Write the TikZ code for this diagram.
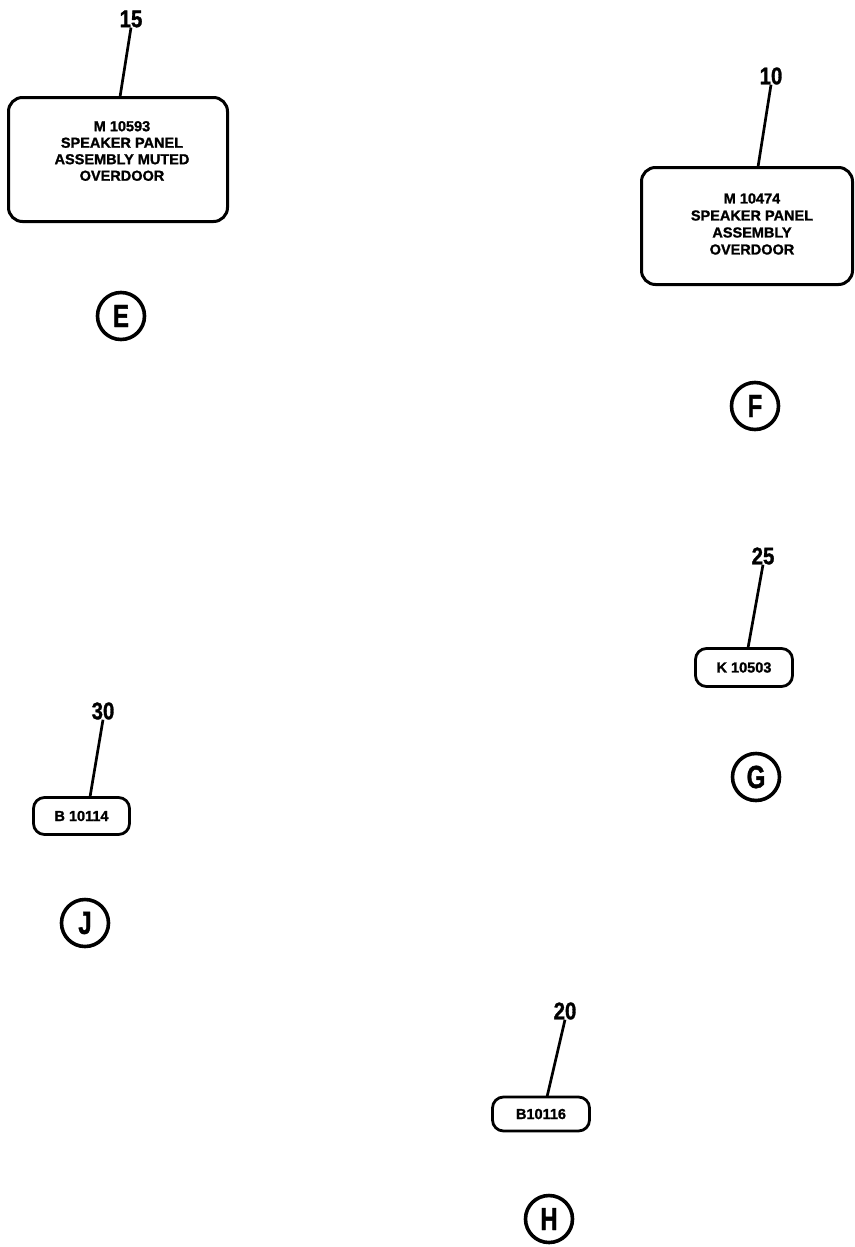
\documentclass[tikz,border=0pt]{standalone}
\usepackage{fontspec}
\setmainfont{Liberation Sans}
\newfontfamily\heavy{Liberation Sans}[BoldFeatures={FakeBold=1.4}]
\begin{document}
\begin{tikzpicture}[x=1pt,y=-1pt,
  panel/.style={draw, line width=3pt, rounded corners=14pt, inner sep=0pt},
  ptext/.style={font=\heavy\bfseries\fontsize{14.5}{16.5}\selectfont, align=center, inner sep=0pt},
  tag/.style={draw, line width=2.8pt, rounded corners=11pt, inner sep=0pt, font=\heavy\bfseries\fontsize{14.5}{16}\selectfont},
  num/.style={font=\heavy\bfseries\fontsize{24}{24}\selectfont, inner sep=0pt},
  leader/.style={line width=2.7pt},
  view/.style={draw, circle, line width=3.6pt, minimum size=47pt, inner sep=0pt, font=\heavy\bfseries\fontsize{32}{32}\selectfont}
]
\useasboundingbox (0,0) rectangle (854,1247);

% E
\node[panel, minimum width=219pt, minimum height=124pt] (bE) at (118,159.5) {};
\node[ptext] (tE) at (122,151) {M 10593\\SPEAKER PANEL\\ASSEMBLY MUTED\\OVERDOOR};
\node[num] (n15) at (131,19) {\scalebox{0.85}[1]{15}};
\coordinate (cE) at (120,97);
\draw[leader] (n15.south) -- (cE);
\node[view] (vE) at (121,316) {\scalebox{0.75}[1]{E}};

% F
\node[panel, minimum width=211pt, minimum height=117pt] (bF) at (747,226) {};
\node[ptext, font=\heavy\bfseries\fontsize{14.5}{17}\selectfont] (tF) at (752,224) {M 10474\\SPEAKER PANEL\\ASSEMBLY\\OVERDOOR};
\node[num] (n10) at (771,76) {\scalebox{0.85}[1]{10}};
\coordinate (cF) at (758,167);
\draw[leader] (n10.south) -- (cF);
\node[view] (vF) at (755,406) {\scalebox{0.75}[1]{F}};

% G
\node[tag, minimum width=97pt, minimum height=38pt] (bG) at (744,667.5) {K 10503};
\node[num] (n25) at (763,556) {\scalebox{0.85}[1]{25}};
\coordinate (cG) at (748,648);
\draw[leader] (n25.south) -- (cG);
\node[view] (vG) at (756,777) {\scalebox{0.75}[1]{G}};

% J
\node[tag, minimum width=96pt, minimum height=37pt] (bJ) at (81.5,816) {B 10114};
\node[num] (n30) at (103,711) {\scalebox{0.85}[1]{30}};
\coordinate (cJ) at (90,797);
\draw[leader] (n30.south) -- (cJ);
\node[view] (vJ) at (85,923) {\scalebox{0.75}[1]{J}};

% H
\node[tag, minimum width=97pt, minimum height=34pt] (bH) at (541,1114) {B10116};
\node[num] (n20) at (565,1011) {\scalebox{0.85}[1]{20}};
\coordinate (cH) at (547,1097);
\draw[leader] (n20.south) -- (cH);
\node[view] (vH) at (549,1219) {\scalebox{0.75}[1]{H}};
\end{tikzpicture}
\end{document}
